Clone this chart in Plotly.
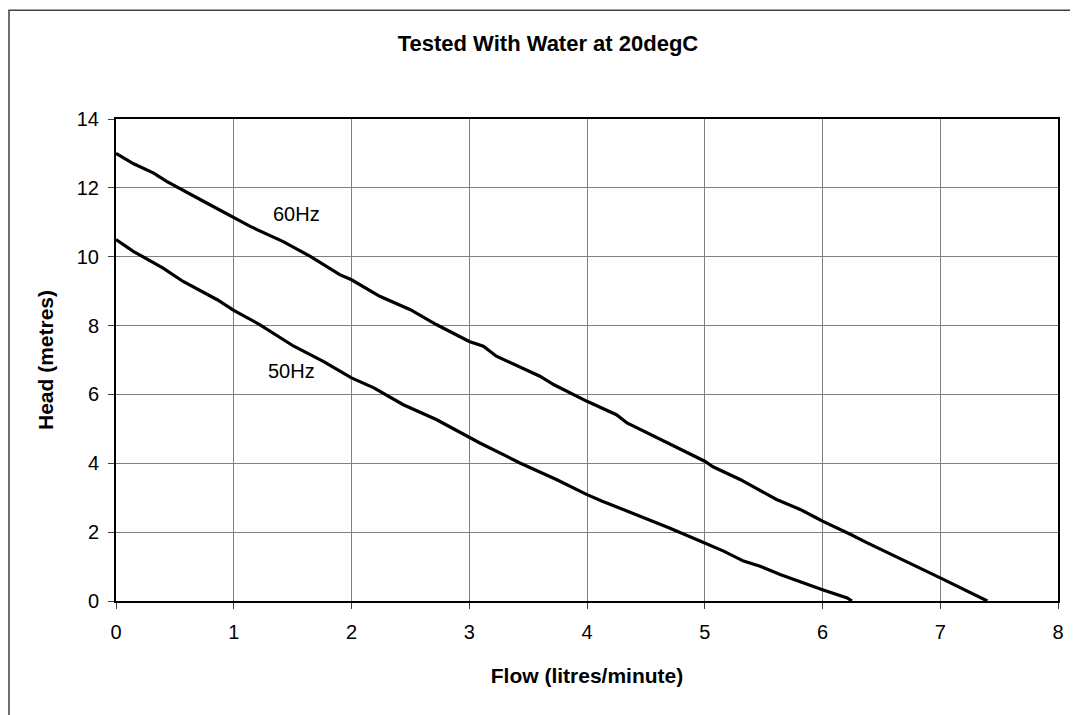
import plotly.graph_objects as go

# 60 Hz curve (flow in litres/minute, head in metres)
flow_60 = [0, 0.15, 0.32, 0.43, 0.77, 1.0, 1.14, 1.42, 1.65, 1.9, 2.0, 2.24, 2.5, 2.72,
           3.0, 3.12, 3.23, 3.6, 3.72, 4.0, 4.25, 4.34, 4.68, 5.0, 5.07, 5.3, 5.61, 5.81,
           5.95, 6.0, 6.24, 6.38, 7.0, 7.4]
head_60 = [13.0, 12.7, 12.43, 12.19, 11.56, 11.15, 10.88, 10.44, 10.01, 9.48, 9.33, 8.85,
           8.46, 8.03, 7.54, 7.40, 7.11, 6.53, 6.28, 5.80, 5.41, 5.17, 4.59, 4.06, 3.90,
           3.53, 2.95, 2.66, 2.41, 2.32, 1.93, 1.69, 0.67, 0.0]

# 50 Hz curve
flow_50 = [0, 0.15, 0.4, 0.57, 0.86, 1.0, 1.22, 1.51, 1.76, 2.0, 2.19, 2.44, 2.72, 3.0,
           3.09, 3.32, 3.43, 3.74, 4.0, 4.13, 4.27, 4.7, 4.96, 5.16, 5.33, 5.47, 5.64,
           5.87, 6.0, 6.21, 6.25]
head_50 = [10.5, 10.15, 9.67, 9.28, 8.75, 8.44, 8.03, 7.40, 6.96, 6.48, 6.19, 5.70, 5.27,
           4.76, 4.59, 4.20, 4.01, 3.53, 3.09, 2.90, 2.71, 2.12, 1.74, 1.45, 1.16, 1.01,
           0.77, 0.48, 0.33, 0.09, 0.0]

labels = ["60Hz", "50Hz"]
label_x = [1.53, 1.49]
label_y = [11.25, 6.67]

x_ticks = [0, 1, 2, 3, 4, 5, 6, 7, 8]
y_ticks = [0, 2, 4, 6, 8, 10, 12, 14]

FONT = "Liberation Sans, Arial, sans-serif"

# page body has an 8px default margin, so the figure is sized to fit inside the window
W, H = 1070, 707

fig = go.Figure()
fig.add_trace(go.Scatter(x=flow_60, y=head_60, mode="lines", name="60Hz",
                         line=dict(color="black", width=3.2), showlegend=False))
fig.add_trace(go.Scatter(x=flow_50, y=head_50, mode="lines", name="50Hz",
                         line=dict(color="black", width=3.2), showlegend=False))

for t, x, y in zip(labels, label_x, label_y):
    fig.add_annotation(x=x, y=y, text=t, showarrow=False,
                       font=dict(family=FONT, size=20, color="black"))

# outer chart border (runs past the window on the right and bottom)
fig.add_shape(type="rect", xref="paper", yref="paper",
              x0=-0.1136, x1=1.06, y0=-0.27, y1=1.2255,
              line=dict(color="#404040", width=1.5), layer="below")

fig.update_layout(
    width=W, height=H,
    margin=dict(l=108, r=20, t=111, b=114),
    paper_bgcolor="white", plot_bgcolor="white",
    font=dict(family=FONT, size=20, color="black"),
    title=dict(text="<b>Tested With Water at 20degC</b>", x=540 / W, xref="container",
               xanchor="center", y=1 - 35 / H, yref="container", yanchor="middle",
               font=dict(family=FONT, size=22, color="black")),
    xaxis=dict(range=[0, 8], tickvals=x_ticks, ticktext=[str(v) for v in x_ticks],
               showgrid=True, gridcolor="#808080", gridwidth=1,
               zeroline=False, showline=True, linecolor="black", linewidth=2, mirror=True,
               ticks="outside", ticklen=6, tickcolor="#404040", ticklabelstandoff=6,
               tickfont=dict(family=FONT, size=20, color="black"),
               title=dict(text="<b>Flow (litres/minute)</b>", standoff=26,
                          font=dict(family=FONT, size=21, color="black"))),
    yaxis=dict(range=[0, 14], tickvals=y_ticks, ticktext=[str(v) for v in y_ticks],
               showgrid=True, gridcolor="#808080", gridwidth=1,
               zeroline=False, showline=True, linecolor="black", linewidth=2, mirror=True,
               ticks="outside", ticklen=6, tickcolor="#404040", ticklabelstandoff=5,
               tickfont=dict(family=FONT, size=20, color="black"),
               title=dict(text="<b>Head (metres)</b>", standoff=17,
                          font=dict(family=FONT, size=21, color="black"))),
)

fig.write_html("out.html")
